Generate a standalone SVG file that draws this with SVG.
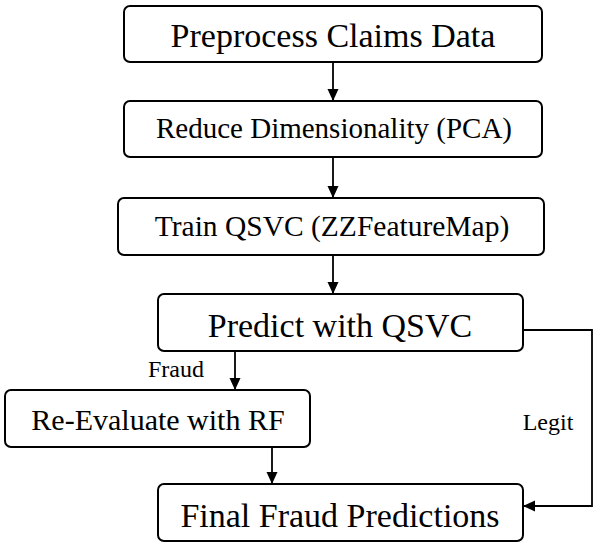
<svg xmlns="http://www.w3.org/2000/svg" width="600" height="550" viewBox="0 0 600 550">
<style>
.box{fill:#fff;stroke:#000;stroke-width:2}
.t{font-family:"Liberation Serif","Times New Roman",serif;fill:#000;text-anchor:middle}
.c{fill:none;stroke:#000;stroke-width:1.8}
.l{font-family:"Liberation Serif","Times New Roman",serif;fill:#000;font-size:24px;text-anchor:middle}
</style>
<defs>
<marker id="ah" markerWidth="12" markerHeight="12" refX="12" refY="6" orient="auto" markerUnits="userSpaceOnUse">
<path d="M0,0.5 L12,6 L0,11.5 Z" fill="#000"/>
</marker>
</defs>
<rect width="600" height="550" fill="#fff"/>
<g id="n1"><rect class="box" x="124" y="6" width="418" height="56" rx="6"/><text class="t" x="333" y="47" font-size="34">Preprocess Claims Data</text></g>
<g id="n2"><rect class="box" x="124" y="101" width="418" height="56" rx="6"/><text class="t" x="334" y="138" font-size="29">Reduce Dimensionality (PCA)</text></g>
<g id="n3"><rect class="box" x="118" y="198" width="426" height="57" rx="6"/><text class="t" x="332" y="236" font-size="29.5">Train QSVC (ZZFeatureMap)</text></g>
<g id="n4"><rect class="box" x="158" y="294" width="365" height="57" rx="6"/><text class="t" x="340" y="337" font-size="34">Predict with QSVC</text></g>
<g id="n5"><rect class="box" x="5" y="390" width="305" height="57" rx="6"/><text class="t" x="158" y="430" font-size="30">Re-Evaluate with RF</text></g>
<g id="n6"><rect class="box" x="158" y="484" width="365" height="57" rx="6"/><text class="t" x="340" y="527" font-size="34">Final Fraud Predictions</text></g>
<g id="connectors">
<line class="c" x1="333" y1="62" x2="333" y2="101" marker-end="url(#ah)"/>
<line class="c" x1="333" y1="157" x2="333" y2="198" marker-end="url(#ah)"/>
<line class="c" x1="333" y1="255" x2="333" y2="294" marker-end="url(#ah)"/>
<line class="c" x1="235" y1="351" x2="235" y2="390" marker-end="url(#ah)"/>
<line class="c" x1="272" y1="447" x2="272" y2="484" marker-end="url(#ah)"/>
<polyline class="c" points="523,330 592,330 592,506 523,506" marker-end="url(#ah)"/>
<text class="l" x="176" y="377">Fraud</text>
<text class="l" x="548" y="430">Legit</text>
</g>
</svg>
